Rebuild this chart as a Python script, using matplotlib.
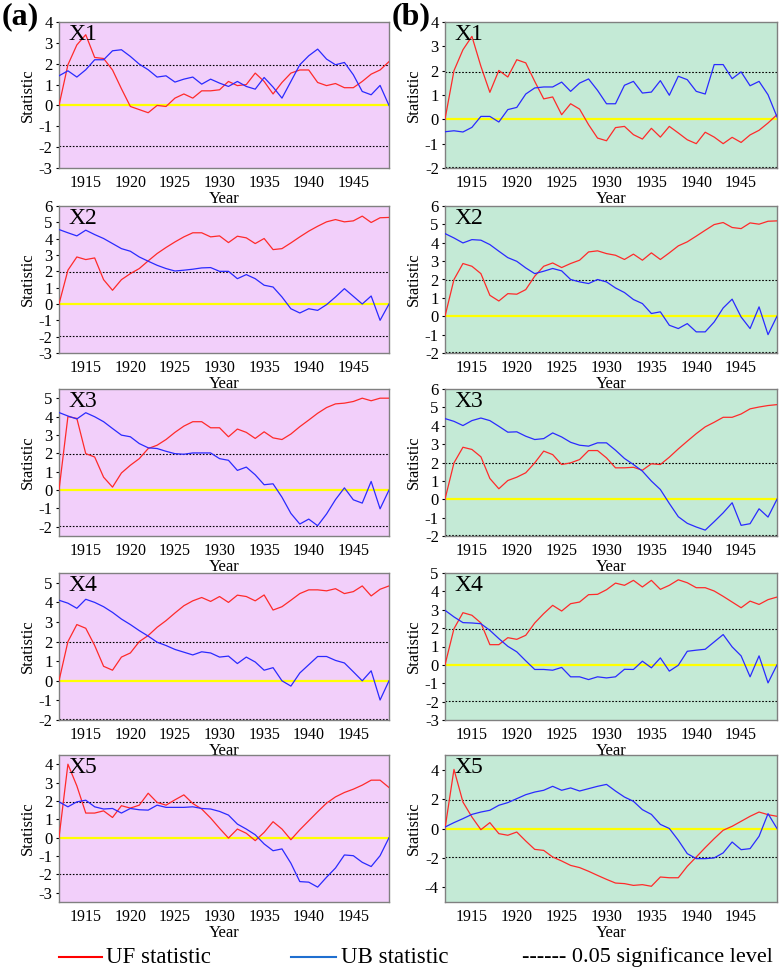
import matplotlib
matplotlib.use("Agg")
import matplotlib.pyplot as plt
from matplotlib.lines import Line2D

plt.rcParams['font.family'] = ['Liberation Serif', 'DejaVu Serif']
plt.rcParams['axes.unicode_minus'] = False

years = list(range(1912, 1950))
xticks = [1915, 1920, 1925, 1930, 1935, 1940, 1945]
panel_names = ["X1", "X2", "X3", "X4", "X5"]

# ---- Column (a) ----
uf_a1 = [0, 1.95, 2.9, 3.39, 2.3, 2.25, 1.7, 0.8, -0.05, -0.2, -0.35, 0, -0.05, 0.35, 0.55, 0.35, 0.7, 0.7, 0.75,
         1.15, 0.95, 1.0, 1.55, 1.15, 0.55, 1.1, 1.55, 1.7, 1.7, 1.1, 0.95, 1.05, 0.85, 0.85, 1.15, 1.5, 1.7, 2.1]
ub_a1 = [1.42, 1.66, 1.36, 1.71, 2.19, 2.19, 2.62, 2.67, 2.35, 1.98, 1.71, 1.36, 1.42, 1.12, 1.26, 1.36, 1.02, 1.26,
         1.07, 0.91, 1.15, 0.91, 0.78, 1.34, 0.88, 0.35, 1.15, 1.95, 2.38, 2.7, 2.22, 1.95, 2.06, 1.47, 0.67, 0.51, 0.96, 0]

uf_a2 = [0, 2.07, 2.88, 2.72, 2.82, 1.49, 0.84, 1.49, 1.86, 2.17, 2.64, 3.09, 3.46, 3.8, 4.11, 4.36, 4.36, 4.11, 4.17,
         3.76, 4.15, 4.05, 3.7, 4.01, 3.33, 3.39, 3.74, 4.11, 4.46, 4.76, 5.03, 5.17, 5.03, 5.09, 5.38, 4.99, 5.28, 5.3]
ub_a2 = [4.56, 4.36, 4.17, 4.52, 4.25, 4.01, 3.7, 3.39, 3.23, 2.88, 2.62, 2.37, 2.17, 2.02, 2.07, 2.13, 2.21, 2.23,
         2.0, 2.0, 1.55, 1.8, 1.55, 1.15, 1.04, 0.43, -0.29, -0.55, -0.29, -0.39, -0.04, 0.43, 0.94, 0.47, 0, 0.49, -1.0, 0]

uf_a3 = [0, 4.0, 3.9, 1.98, 1.8, 0.7, 0.16, 0.93, 1.35, 1.71, 2.26, 2.44, 2.75, 3.14, 3.48, 3.72, 3.72, 3.39, 3.39,
         2.9, 3.32, 3.14, 2.81, 3.17, 2.84, 2.75, 3.05, 3.45, 3.81, 4.18, 4.49, 4.69, 4.73, 4.82, 5.0, 4.86, 5.0, 5.0]
ub_a3 = [4.22, 4.03, 3.87, 4.21, 3.99, 3.72, 3.35, 2.99, 2.9, 2.53, 2.3, 2.26, 2.11, 1.98, 1.95, 2.02, 2.02, 2.02,
         1.71, 1.62, 1.07, 1.25, 0.83, 0.29, 0.34, -0.39, -1.27, -1.85, -1.58, -1.94, -1.3, -0.52, 0.12, -0.53, -0.71,
         0.47, -1.02, 0]

uf_a4 = [0, 2.0, 2.87, 2.68, 1.8, 0.74, 0.54, 1.21, 1.42, 2.0, 2.31, 2.73, 3.07, 3.46, 3.83, 4.08, 4.25, 4.05, 4.3,
         4.0, 4.37, 4.3, 4.08, 4.38, 3.61, 3.78, 4.11, 4.45, 4.64, 4.64, 4.59, 4.7, 4.45, 4.55, 4.84, 4.33, 4.67, 4.84]
ub_a4 = [4.11, 3.96, 3.7, 4.16, 4.0, 3.78, 3.49, 3.15, 2.87, 2.56, 2.28, 1.97, 1.8, 1.6, 1.46, 1.32, 1.48, 1.42,
         1.21, 1.26, 0.88, 1.21, 0.96, 0.54, 0.67, 0, -0.27, 0.4, 0.82, 1.24, 1.24, 1.04, 0.91, 0.46, 0, 0.51, -0.98, 0]

uf_a5 = [0, 4.0, 2.82, 1.34, 1.34, 1.46, 1.1, 1.74, 1.61, 1.77, 2.42, 1.92, 1.77, 2.06, 2.33, 1.86, 1.56, 1.07, 0.51,
         -0.02, 0.47, 0.24, -0.16, 0.29, 0.87, 0.47, -0.11, 0.43, 0.92, 1.41, 1.88, 2.22, 2.46, 2.64, 2.86, 3.13, 3.13,
         2.73]
ub_a5 = [1.95, 1.68, 1.95, 2.04, 1.68, 1.56, 1.59, 1.34, 1.59, 1.52, 1.5, 1.77, 1.65, 1.65, 1.65, 1.68, 1.59, 1.56,
         1.43, 1.23, 0.74, 0.47, 0.16, -0.34, -0.71, -0.61, -1.39, -2.39, -2.42, -2.69, -2.15, -1.65, -0.94, -0.98,
         -1.34, -1.57, -0.98, 0]

# ---- Column (b) ----
uf_b1 = [0, 2.0, 2.86, 3.41, 2.18, 1.11, 2.01, 1.74, 2.45, 2.32, 1.56, 0.84, 0.92, 0.19, 0.64, 0.42, -0.22, -0.77,
         -0.88, -0.34, -0.29, -0.63, -0.81, -0.37, -0.73, -0.29, -0.56, -0.84, -1.0, -0.53, -0.73, -1.0, -0.74, -0.95,
         -0.64, -0.45, -0.15, 0.19]
ub_b1 = [-0.51, -0.47, -0.52, -0.33, 0.12, 0.12, -0.11, 0.4, 0.49, 1.04, 1.29, 1.33, 1.33, 1.53, 1.15, 1.49, 1.66,
         1.19, 0.64, 0.64, 1.4, 1.56, 1.08, 1.12, 1.59, 0.99, 1.77, 1.63, 1.15, 1.04, 2.25, 2.25, 1.67, 1.95, 1.38,
         1.56, 1.01, 0.1]

uf_b2 = [0, 2.0, 2.87, 2.72, 2.32, 1.14, 0.83, 1.23, 1.2, 1.45, 2.18, 2.72, 2.9, 2.65, 2.87, 3.05, 3.5, 3.56, 3.41,
         3.32, 3.09, 3.38, 3.05, 3.45, 3.09, 3.45, 3.83, 4.05, 4.36, 4.68, 4.99, 5.1, 4.83, 4.77, 5.08, 5.01, 5.17, 5.19]
ub_b2 = [4.5, 4.26, 3.99, 4.17, 4.14, 3.9, 3.54, 3.19, 2.99, 2.63, 2.32, 2.45, 2.6, 2.47, 2.0, 1.87, 1.78, 2.0, 1.87,
         1.54, 1.29, 0.91, 0.69, 0.15, 0.24, -0.49, -0.67, -0.4, -0.85, -0.85, -0.31, 0.45, 0.93, -0.04, -0.67, 0.51,
         -1.0, 0]

uf_b3 = [0, 1.98, 2.83, 2.71, 2.31, 1.13, 0.57, 1.02, 1.2, 1.44, 1.98, 2.62, 2.43, 1.89, 1.98, 2.16, 2.65, 2.65,
         2.25, 1.71, 1.71, 1.74, 1.58, 1.93, 1.89, 2.29, 2.74, 3.16, 3.57, 3.94, 4.19, 4.46, 4.46, 4.64, 4.92, 5.02,
         5.1, 5.15]
ub_b3 = [4.39, 4.24, 4.01, 4.28, 4.42, 4.28, 3.97, 3.65, 3.67, 3.43, 3.25, 3.3, 3.61, 3.39, 3.1, 2.94, 2.89, 3.07,
         3.07, 2.67, 2.22, 1.89, 1.53, 0.99, 0.53, -0.23, -0.95, -1.31, -1.51, -1.68, -1.22, -0.74, -0.19, -1.42,
         -1.33, -0.52, -0.97, 0]

uf_b4 = [0, 1.97, 2.84, 2.7, 2.28, 1.1, 1.1, 1.48, 1.39, 1.61, 2.28, 2.79, 3.24, 2.93, 3.33, 3.42, 3.82, 3.84, 4.09,
         4.45, 4.33, 4.6, 4.24, 4.6, 4.11, 4.33, 4.63, 4.47, 4.2, 4.2, 4.02, 3.73, 3.42, 3.11, 3.47, 3.29, 3.55, 3.69]
ub_b4 = [2.97, 2.61, 2.3, 2.28, 2.24, 1.88, 1.43, 1.01, 0.71, 0.22, -0.25, -0.25, -0.29, -0.14, -0.65, -0.65, -0.8,
         -0.65, -0.71, -0.65, -0.24, -0.25, 0.2, -0.16, 0.38, -0.34, -0.02, 0.74, 0.8, 0.85, 1.25, 1.65, 0.98, 0.49,
         -0.65, 0.49, -0.98, 0]

uf_b5 = [0, 4.02, 1.8, 0.78, -0.08, 0.4, -0.35, -0.46, -0.24, -0.85, -1.42, -1.49, -1.94, -2.21, -2.51, -2.66,
         -2.91, -3.19, -3.46, -3.71, -3.75, -3.87, -3.82, -3.93, -3.3, -3.35, -3.35, -2.57, -1.94, -1.3, -0.69, -0.12,
         0.15, 0.49, 0.83, 1.12, 0.94, 0.83]
ub_b5 = [0.1, 0.4, 0.67, 0.96, 1.12, 1.24, 1.58, 1.76, 2.03, 2.3, 2.48, 2.6, 2.87, 2.6, 2.76, 2.55, 2.71, 2.87, 3.0,
         2.55, 2.14, 1.85, 1.28, 0.96, 0.28, 0, -0.8, -1.71, -2.05, -2.05, -2.0, -1.66, -0.92, -1.44, -1.37, -0.53,
         1.01, 0]

uf_cols = [[uf_a1, uf_a2, uf_a3, uf_a4, uf_a5], [uf_b1, uf_b2, uf_b3, uf_b4, uf_b5]]
ub_cols = [[ub_a1, ub_a2, ub_a3, ub_a4, ub_a5], [ub_b1, ub_b2, ub_b3, ub_b4, ub_b5]]

ylims = [[(-3, 4), (-3, 6), (-2.5, 5.5), (-2, 5.5), (-3.5, 4.5)],
         [(-2, 4), (-2, 6), (-2, 6), (-3, 5), (-5, 5)]]
yticks = [[range(-3, 5), range(-3, 7), range(-2, 6), range(-2, 6), range(-3, 5)],
          [range(-2, 5), range(-2, 7), range(-2, 7), range(-3, 6), [-4, -2, 0, 2, 4]]]

W, H = 780, 972
fig = plt.figure(figsize=(W / 100, H / 100), dpi=100)

col_x = [(59, 389), (445, 777)]
row_y = [(22, 168), (206, 353), (389, 536), (573, 720), (755, 902)]
bg = ['#F2CFFA', '#C4EAD6']

for c in range(2):
    for r in range(5):
        x0, x1 = col_x[c]
        y0, y1 = row_y[r]
        ax = fig.add_axes([x0 / W, 1 - y1 / H, (x1 - x0) / W, (y1 - y0) / H])
        ax.set_facecolor(bg[c])
        ax.axhline(0, color='#FFFF00', lw=1.6, zorder=1)
        ax.axhline(1.96, color='black', lw=0.8, ls=(0, (1.5, 1.5)), zorder=1)
        ax.axhline(-1.96, color='black', lw=0.8, ls=(0, (1.5, 1.5)), zorder=1)
        ax.plot(years, uf_cols[c][r], color='#FF2A2A', lw=0.9, zorder=3)
        ax.plot(years, ub_cols[c][r], color='#2A2AFF', lw=0.9, zorder=3)
        ax.set_xlim(1912, 1949)
        ax.set_ylim(*ylims[c][r])
        ax.set_xticks(xticks)
        ax.set_yticks(list(yticks[c][r]))
        ax.tick_params(axis='x', length=0, labelsize=11.5, pad=5)
        ax.tick_params(axis='y', length=2.5, labelsize=12, pad=2)
        ax.set_xlabel('Year', fontsize=12, labelpad=0)
        ax.set_ylabel('Statistic', fontsize=12, labelpad=2)
        for s in ax.spines.values():
            s.set_color('#808080')
            s.set_linewidth(1.0)
        ax.text(0.03, 0.985, panel_names[r], transform=ax.transAxes, fontsize=17,
                va='top', ha='left', zorder=5)

fig.text(2 / W, 1 - 2 / H, '(a)', fontsize=23, fontweight='bold', va='top', ha='left')
fig.text(392 / W, 1 - 2 / H, '(b)', fontsize=23, fontweight='bold', va='top', ha='left')

# Legend
ly = 1 - 957 / H
fig.add_artist(Line2D([59 / W, 102 / W], [ly, ly], color='#FF0000', lw=1.5))
fig.text(106 / W, ly, 'UF statistic', fontsize=16.5, va='center', ha='left')
fig.add_artist(Line2D([291 / W, 336 / W], [ly, ly], color='#1F6FD0', lw=1.5))
fig.text(341 / W, ly, 'UB statistic', fontsize=16.5, va='center', ha='left')
fig.text(522 / W, ly, '------ 0.05 significance level', fontsize=16, va='center', ha='left')

fig.savefig('out.png', dpi=100)
